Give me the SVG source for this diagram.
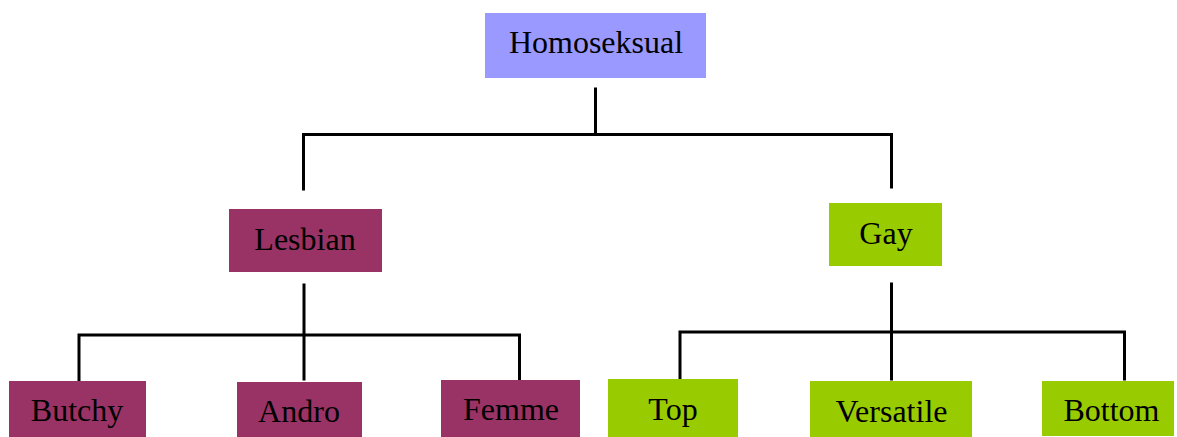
<svg xmlns="http://www.w3.org/2000/svg" width="1177" height="437" viewBox="0 0 1177 437">
<style>
.lbl{font-family:"Liberation Serif","Times New Roman",serif;font-size:32px;fill:#000;text-anchor:middle}
.root{fill:#9999ff}
.les{fill:#993366}
.gay{fill:#99cc00}
.con{fill:none;stroke:#000;stroke-width:3;stroke-linecap:square}
</style>
<rect width="1177" height="437" fill="#fff"/>
<g id="connectors">
<path class="con" d="M595.5 89 V134.5 M303.5 134.5 H891.5 M303.5 134.5 V189 M891.5 134.5 V187"/>
<path class="con" d="M304 285 V379 M79 335 H519.5 M79 335 V380 M519.5 335 V379"/>
<path class="con" d="M891.5 284 V379 M680 332 H1124.5 M680 332 V378 M1124.5 332 V379"/>
</g>
<g id="homoseksual"><rect class="root" x="485" y="13" width="221" height="65"/><text class="lbl" x="596" y="53">Homoseksual</text></g>
<g id="lesbian"><rect class="les" x="229" y="209" width="153" height="63"/><text class="lbl" x="305" y="250">Lesbian</text></g>
<g id="gay"><rect class="gay" x="829" y="203" width="113" height="63"/><text class="lbl" x="886" y="244">Gay</text></g>
<g id="butchy"><rect class="les" x="9" y="381" width="137" height="56"/><text class="lbl" x="77" y="421">Butchy</text></g>
<g id="andro"><rect class="les" x="237" y="382" width="125" height="55"/><text class="lbl" x="299" y="422">Andro</text></g>
<g id="femme"><rect class="les" x="441" y="380" width="139" height="57"/><text class="lbl" x="511" y="420">Femme</text></g>
<g id="top"><rect class="gay" x="608" y="379" width="130" height="58"/><text class="lbl" x="673" y="420">Top</text></g>
<g id="versatile"><rect class="gay" x="810" y="381" width="162" height="56"/><text class="lbl" x="891.5" y="422">Versatile</text></g>
<g id="bottom"><rect class="gay" x="1042" y="381" width="132" height="55"/><text class="lbl" x="1111.5" y="421">Bottom</text></g>
</svg>
